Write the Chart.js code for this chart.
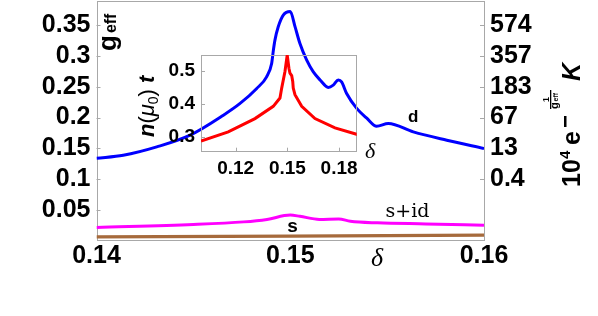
<!DOCTYPE html>
<html>
<head>
<meta charset="utf-8">
<script src="https://cdn.jsdelivr.net/npm/chart.js@4.4.0/dist/chart.umd.min.js"></script>
<style>
  html, body { margin: 0; padding: 0; background: #fff; }
  #wrap { position: relative; width: 598px; height: 316px; }
  #main { position: absolute; left: 0; top: 0; }
  #inset { position: absolute; left: 140px; top: 45px; }
</style>
</head>
<body>
<div id="wrap">
  <canvas id="main" width="598" height="316"></canvas>
  <canvas id="inset" width="240" height="135"></canvas>
</div>
<script>
// main panel: g_eff vs delta
const xTicks = [0.14, 0.15, 0.16];
const xTickLabels = ["0.14", "0.15", "0.16"];
const yTicks = [0.05, 0.1, 0.15, 0.2, 0.25, 0.3, 0.35];
const yTickLabels = ["0.05", "0.1", "0.15", "0.2", "0.25", "0.3", "0.35"];
const y2Ticks = [0.1, 0.15, 0.2, 0.25, 0.3, 0.35];
const y2TickLabels = ["0.4", "13", "67", "183", "357", "574"];

// d-wave
const deltaD = [0.1400, 0.14138, 0.14311, 0.14483, 0.14655, 0.14741, 0.14827, 0.14878, 0.14904, 0.14913,
  0.14921, 0.14938, 0.14964, 0.15000, 0.15025, 0.1505, 0.15085, 0.15119, 0.15154, 0.15196,
  0.15222, 0.15248, 0.15265, 0.15291, 0.15343, 0.15395, 0.15446, 0.15506, 0.15635, 0.15808, 0.1600];
const gD = [0.134, 0.139, 0.1526, 0.1716, 0.204, 0.223, 0.2473, 0.2661, 0.2878, 0.3094,
  0.3256, 0.3472, 0.3662, 0.372, 0.347, 0.320, 0.293, 0.274, 0.261, 0.249,
  0.2526, 0.261, 0.258, 0.239, 0.215, 0.199, 0.186, 0.1905, 0.1769, 0.1634, 0.150];

// s+id
const deltaSD = [0.1400, 0.1450, 0.1476, 0.1488, 0.1500, 0.1505, 0.1515, 0.1525, 0.1531, 0.1545, 0.1570, 0.1600];
const gSD = [0.022, 0.0267, 0.031, 0.035, 0.042, 0.040, 0.035, 0.0358, 0.032, 0.0294, 0.0277, 0.0256];

// s
const deltaS = [0.14, 0.15, 0.16];
const gS = [0.0067, 0.008, 0.0094];

// inset: n(mu0) t vs delta
const insetXTicks = [0.12, 0.15, 0.18];
const insetXTickLabels = ["0.12", "0.15", "0.18"];
const insetYTicks = [0.3, 0.4, 0.5];
const insetYTickLabels = ["0.3", "0.4", "0.5"];
const deltaN = [0.0999, 0.1157, 0.1312, 0.1418, 0.1457, 0.1467, 0.1486, 0.1499, 0.1509, 0.1515,
  0.1525, 0.1531, 0.1534, 0.1544, 0.1583, 0.1660, 0.1776, 0.1906];
const nT = [0.288, 0.316, 0.356, 0.393, 0.418, 0.448, 0.498, 0.548, 0.508, 0.493,
  0.486, 0.468, 0.448, 0.428, 0.393, 0.356, 0.328, 0.308];

const pts = (xs, ys) => xs.map((x, i) => ({ x: x, y: ys[i] }));
const frameColor = "#a8a8a8";
const SANS = "Liberation Sans";

function fixedTicks(values) {
  return scale => { scale.ticks = values.map(v => ({ value: v })); };
}

// force axis size and drop the label overhang padding
function fitTo(size) {
  return s => {
    if (s.isHorizontal()) s.height = size; else s.width = size;
    s.paddingTop = 0; s.paddingBottom = 0; s.paddingLeft = 0; s.paddingRight = 0;
  };
}

function frameAndTicks(len, sides) {
  return {
    id: "frameAndTicks",
    beforeDatasetsDraw(chart) {
      const { ctx, chartArea: a, scales } = chart;
      ctx.save();
      ctx.strokeStyle = frameColor;
      ctx.lineWidth = 1;
      ctx.strokeRect(Math.round(a.left) + 0.5, Math.round(a.top) + 0.5,
        Math.round(a.right - a.left) - 1, Math.round(a.bottom - a.top) - 1);
      ctx.beginPath();
      sides.forEach(s => {
        const sc = scales[s.scale];
        s.values.forEach(v => {
          const p = Math.round(sc.getPixelForValue(v)) + 0.5;
          if (s.side === "left") { ctx.moveTo(a.left, p); ctx.lineTo(a.left + len, p); }
          if (s.side === "right") { ctx.moveTo(a.right, p); ctx.lineTo(a.right - len, p); }
          if (s.side === "bottom") { ctx.moveTo(p, a.bottom); ctx.lineTo(p, a.bottom - len); }
        });
      });
      ctx.stroke();
      ctx.restore();
    }
  };
}

const annotations = {
  id: "annotations",
  afterDraw(chart) {
    const { ctx, scales } = chart;
    const xs = scales.x, ys = scales.y;
    ctx.save();
    ctx.fillStyle = "#000";

    // left axis title g_eff (rotated)
    ctx.save();
    ctx.translate(116, 51);
    ctx.rotate(-Math.PI / 2);
    ctx.textBaseline = "alphabetic";
    ctx.font = `bold 26px "${SANS}"`;
    ctx.fillText("g", 0, 0);
    const gw = ctx.measureText("g").width;
    ctx.font = `bold 16px "${SANS}"`;
    ctx.fillText("eff", gw + 2, 0);
    ctx.restore();

    // right axis title 10^4 e^(-1/g_eff) K
    ctx.save();
    ctx.translate(580, 187);
    ctx.rotate(-Math.PI / 2);
    ctx.textBaseline = "alphabetic";
    ctx.font = `bold 25px "${SANS}"`;
    ctx.fillText("10", 0, 0);
    ctx.font = `bold 15px "${SANS}"`;
    ctx.fillText("4", 28, -10);
    ctx.font = `bold 25px "${SANS}"`;
    ctx.fillText("e", 42, 0);
    ctx.fillRect(60, -16, 11, 2.5);
    ctx.font = `bold 9px "${SANS}"`;
    ctx.textAlign = "center";
    ctx.fillText("1", 87.5, -31);
    ctx.fillRect(78, -30, 19, 1.3);
    ctx.textAlign = "left";
    ctx.font = `bold 11px "${SANS}"`;
    ctx.fillText("g", 78, -22);
    ctx.font = `bold 7px "${SANS}"`;
    ctx.fillText("eff", 85.5, -22);
    ctx.font = `italic bold 25px "${SANS}"`;
    ctx.fillText("K", 106, 0);
    ctx.restore();

    // inset y title n(mu0) t (rotated)
    ctx.save();
    ctx.translate(153.5, 137);
    ctx.rotate(-Math.PI / 2);
    ctx.textBaseline = "alphabetic";
    let cx = 0;
    const piece = (txt, font, dy) => {
      ctx.font = font;
      ctx.fillText(txt, cx, dy || 0);
      cx += ctx.measureText(txt).width;
    };
    piece("n", `italic bold 22px "${SANS}"`);
    piece("(", `22px "${SANS}"`);
    piece("\u03bc", `italic 22px "${SANS}"`);
    piece("0", `14px "${SANS}"`, 4);
    piece(")", `22px "${SANS}"`);
    piece(" t", `italic bold 22px "${SANS}"`);
    ctx.restore();

    // delta labels
    ctx.textAlign = "center";
    ctx.textBaseline = "middle";
    ctx.font = `italic 26px "Liberation Serif"`;
    ctx.fillText("\u03b4", 377, 259);
    ctx.font = `italic 22px "Liberation Serif"`;
    ctx.fillText("\u03b4", 370, 152);

    // curve labels
    ctx.font = `bold 17px "${SANS}"`;
    ctx.fillText("d", xs.getPixelForValue(0.15634), ys.getPixelForValue(0.2));
    ctx.font = `bold 19px "${SANS}"`;
    ctx.fillText("s", xs.getPixelForValue(0.15012), ys.getPixelForValue(0.0235));
    ctx.font = `19px "DejaVu Serif"`;
    ctx.fillText("s+id", xs.getPixelForValue(0.15605), ys.getPixelForValue(0.0475));
    ctx.restore();
  }
};

const tickFont = { family: SANS, size: 25, weight: "bold" };

new Chart(document.getElementById("main"), {
  type: "line",
  data: {
    datasets: [
      { data: pts(deltaS, gS), borderColor: "#a66a3c", borderWidth: 3.2 },
      { data: pts(deltaSD, gSD), borderColor: "#ff00ff", borderWidth: 3, cubicInterpolationMode: "monotone" },
      { data: pts(deltaD, gD), borderColor: "#0000ff", borderWidth: 3, cubicInterpolationMode: "monotone" }
    ]
  },
  options: {
    responsive: false,
    animation: false,
    layout: { padding: { top: 1 } },
    elements: { point: { radius: 0 } },
    plugins: { legend: { display: false }, tooltip: { enabled: false } },
    scales: {
      x: {
        type: "linear", min: 0.14, max: 0.16,
        afterBuildTicks: fixedTicks(xTicks),
        afterFit: fitTo(75),
        grid: { display: false, drawTicks: false },
        border: { display: false },
        ticks: { font: tickFont, color: "#000", padding: 0, maxRotation: 0,
          callback: (v, i) => xTickLabels[i] }
      },
      y: {
        min: 0, max: 0.389,
        afterBuildTicks: fixedTicks(yTicks),
        afterFit: fitTo(96.5),
        grid: { display: false, drawTicks: false },
        border: { display: false },
        ticks: { font: tickFont, color: "#000", padding: 6,
          callback: (v, i) => yTickLabels[i] }
      },
      y2: {
        position: "right",
        min: 0, max: 0.389,
        afterBuildTicks: fixedTicks(y2Ticks),
        afterFit: fitTo(114),
        grid: { display: false, drawTicks: false },
        border: { display: false },
        ticks: { font: tickFont, color: "#000", padding: 6,
          callback: (v, i) => y2TickLabels[i] }
      }
    }
  },
  plugins: [
    frameAndTicks(4, [
      { scale: "y", side: "left", values: yTicks },
      { scale: "y2", side: "right", values: y2Ticks }
    ]),
    annotations
  ]
});

const insetFont = { family: SANS, size: 19, weight: "bold" };

new Chart(document.getElementById("inset"), {
  type: "line",
  data: {
    datasets: [
      { data: pts(deltaN, nT), borderColor: "#ff0000", borderWidth: 3, tension: 0 }
    ]
  },
  options: {
    responsive: false,
    animation: false,
    layout: { padding: { top: 10, right: 23.3 } },
    elements: { point: { radius: 0 } },
    plugins: { legend: { display: false }, tooltip: { enabled: false } },
    scales: {
      x: {
        type: "linear", min: 0.0999, max: 0.1902,
        afterBuildTicks: fixedTicks(insetXTicks),
        afterFit: fitTo(28.3),
        grid: { display: false, drawTicks: false },
        border: { display: false },
        ticks: { font: insetFont, color: "#000", padding: 6, maxRotation: 0,
          callback: (v, i) => insetXTickLabels[i] }
      },
      y: {
        min: 0.256, max: 0.548,
        afterBuildTicks: fixedTicks(insetYTicks),
        afterFit: fitTo(61),
        grid: { display: false, drawTicks: false },
        border: { display: false },
        ticks: { font: insetFont, color: "#000", padding: 6,
          callback: (v, i) => insetYTickLabels[i] }
      }
    }
  },
  plugins: [
    frameAndTicks(4, [
      { scale: "y", side: "left", values: insetYTicks },
      { scale: "x", side: "bottom", values: insetXTicks }
    ])
  ]
});
</script>
</body>
</html>
